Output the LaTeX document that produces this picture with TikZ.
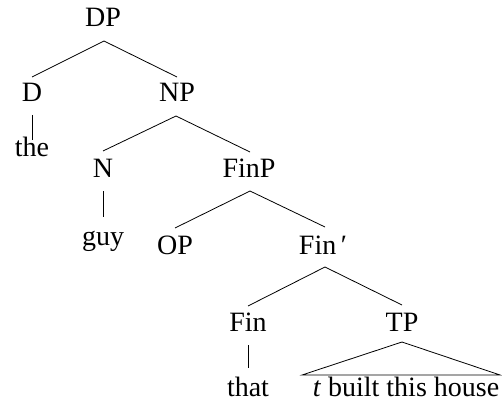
\documentclass[tikz,border=0pt]{standalone}
\usepackage{fontspec}
\setmainfont{Liberation Serif}
\tikzset{
  lbl/.style={anchor=base, inner sep=0pt, font=\fontsize{28}{34}\selectfont},
  edge/.style={line width=0.8pt, black}
}
\begin{document}
\begin{tikzpicture}[x=1pt,y=-1pt]
\useasboundingbox (0,0) rectangle (502,406);
\node[lbl] (DP)   at (103,27)  {DP};
\node[lbl] (D)    at (32,102)  {D};
\node[lbl] (NP)   at (177,102) {NP};
\node[lbl] (the)  at (32,157)  {the};
\node[lbl] (N)    at (103,177) {N};
\node[lbl] (FinP) at (249,177) {FinP};
\node[lbl] (guy)  at (103,245) {guy};
\node[lbl] (OP)   at (175,254) {OP};
\node[lbl] (Finb) at (323,254) {Fin\,′};
\node[lbl] (Fin)  at (248,331) {Fin};
\node[lbl] (TP)   at (402,331) {TP};
\node[lbl] (that) at (248,396) {that};
\node[lbl] (tri)  at (406,396) {\textit{t} built this house};
% connectors
\draw[edge] ([xshift=1pt,yshift=-14pt]DP.base) -- ([yshift=25pt]D.base);
\draw[edge] ([xshift=1pt,yshift=-14pt]DP.base) -- ([yshift=25pt]NP.base);
\draw[edge] ([yshift=-13pt]D.base) -- ([yshift=17pt]the.base);
\draw[edge] ([xshift=-1pt,yshift=-14pt]NP.base) -- ([yshift=26pt]N.base);
\draw[edge] ([xshift=-1pt,yshift=-14pt]NP.base) -- ([xshift=1pt,yshift=25pt]FinP.base);
\draw[edge] ([yshift=-14pt]N.base) -- ([yshift=28pt]guy.base);
\draw[edge] ([xshift=1pt,yshift=-14pt]FinP.base) -- ([yshift=26pt]OP.base);
\draw[edge] ([xshift=1pt,yshift=-14pt]FinP.base) -- ([xshift=2pt,yshift=27pt]Finb.base);
\draw[edge] ([xshift=2pt,yshift=-13pt]Finb.base) -- ([yshift=25pt]Fin.base);
\draw[edge] ([xshift=2pt,yshift=-13pt]Finb.base) -- ([yshift=26pt]TP.base);
\draw[edge] ([yshift=-14pt]Fin.base) -- ([yshift=28pt]that.base);
\draw[edge, line join=miter] ([yshift=-11pt]TP.base) -- (302,375) -- (500,375) -- cycle;
\end{tikzpicture}
\end{document}
